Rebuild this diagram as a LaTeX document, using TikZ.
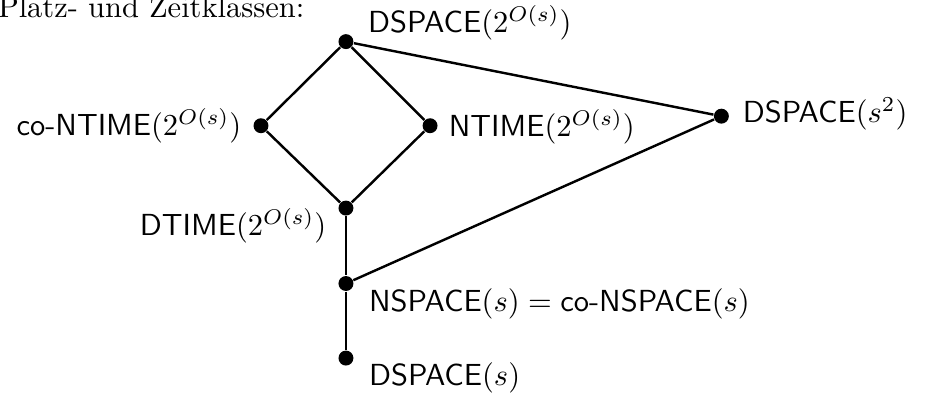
\documentclass[tikz,border=0pt]{standalone}
\usepackage{tikz}
\usetikzlibrary{positioning}

\begin{document}
\begin{tikzpicture}[
		dot/.style={circle, fill=black, inner sep=0pt, minimum size=4.9pt},
		lbl/.style={inner sep=0pt, font=\sffamily},
		edge/.style={line width=0.8pt}]
		\useasboundingbox (0,0) rectangle (10.68,-4.57);
		\node[inner sep=0pt, anchor=base west] (title) at (-0.03,-0.20) {Platz- und Zeitklassen:};
		% Klassen
		\node[dot] (dsexp) at (3.99,-0.48) {};
		\node[dot] (cont) at (3.01,-1.45) {};
		\node[dot] (nt) at (4.96,-1.45) {};
		\node[dot] (dt) at (3.99,-2.40) {};
		\node[dot] (dsq) at (8.32,-1.34) {};
		\node[dot] (ns) at (3.99,-3.27) {};
		\node[dot] (ds) at (3.99,-4.13) {};
		% Beschriftungen
		\node[lbl, anchor=base west] (dsexpl) at (4.24,-0.38) {DSPACE$(2^{O(s)})$};
		\node[lbl, anchor=base east] (contl) at (2.79,-1.56) {co-NTIME$(2^{O(s)})$};
		\node[lbl, anchor=base west] (ntl) at (5.17,-1.57) {NTIME$(2^{O(s)})$};
		\node[lbl, anchor=base east] (dtl) at (3.77,-2.72) {DTIME$(2^{O(s)})$};
		\node[lbl, anchor=base west] (dsql) at (8.56,-1.41) {DSPACE$(s^2)$};
		\node[lbl, anchor=base west] (nsl) at (4.25,-3.59) {NSPACE$(s) = {}$co-NSPACE$(s)$};
		\node[lbl, anchor=base west] (dsl) at (4.25,-4.45) {DSPACE$(s)$};
		% Inklusionen
		\draw[edge] (dsexp) -- (cont) -- (dt) -- (nt) -- (dsexp);
		\draw[edge] (dsexp) -- (dsq) -- (ns);
		\draw[edge] (dt) -- (ns) -- (ds);
\end{tikzpicture}
\end{document}
